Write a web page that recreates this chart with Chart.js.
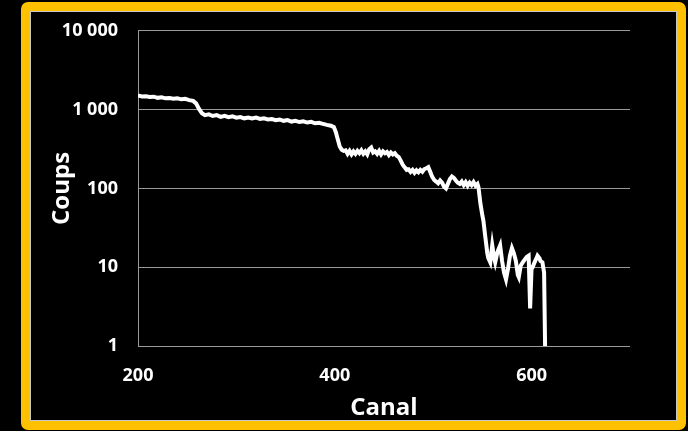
<!DOCTYPE html>
<html>
<head>
<meta charset="utf-8">
<script src="https://cdn.jsdelivr.net/npm/chart.js@4/dist/chart.umd.min.js"></script>
<style>
  html, body { margin: 0; padding: 0; background: #000; }
  body { width: 688px; height: 431px; position: relative; overflow: hidden; }
  #frame {
    position: absolute; left: 21px; top: 2px; width: 665px; height: 428px;
    box-sizing: border-box; border: 9px solid #FFC000; border-radius: 7px;
    background: #000; box-shadow: inset 0 0 0 1px #c8c8c8;
  }
  #wrap { position: absolute; left: 0; top: 0; width: 688px; height: 431px; }
</style>
</head>
<body>
<div id="frame"></div>
<div id="wrap"><canvas id="chart"></canvas></div>
<script>
/* ── data ────────────────────────────────────────────────── */

const canal = [
  200, 204, 208, 212, 216, 220, 224, 228, 232, 236, 240, 244, 248, 252, 256,
  259, 262, 265, 268,
  272, 276, 280, 284, 288, 292, 296, 300, 304, 308, 312, 316, 320, 324, 328,
  332, 336, 340, 344, 348, 352, 356, 360, 364, 368, 372, 376, 380, 384, 388,
  392, 396, 399,
  401, 403, 405, 407, 409,
  411, 413, 415, 417, 419, 421, 423, 425, 427, 429, 431, 433, 435, 437, 439,
  441, 443, 445, 447, 449, 451, 453, 455, 457, 459, 461, 463,
  465, 467, 469, 471, 473,
  475, 477, 479, 481, 483, 485, 487, 489, 491, 493, 495, 497,
  499, 501, 503, 505, 507, 509, 511, 513, 515, 517, 519, 521, 523, 525, 527,
  529, 531, 533, 535, 537, 539, 541, 543, 545, 546,
  548, 550, 551, 553, 555,
  556, 558, 560, 562, 563, 565, 566, 568, 570, 572, 574, 576, 578, 580, 582,
  584, 586, 587, 589, 591, 593, 595, 597, 598.5, 600, 601, 603, 605, 606, 608,
  609, 611, 612.7, 613.7
];

const coups = [
  1510, 1470, 1480, 1450, 1460, 1410, 1430, 1390, 1400, 1370, 1390, 1350, 1370, 1320, 1290,
  1200, 1020, 900, 850,
  870, 830, 850, 810, 835, 800, 820, 790, 805, 775, 795, 770, 790, 760, 775,
  750, 760, 735, 750, 720, 735, 705, 720, 695, 710, 685, 700, 670, 680, 660,
  640, 625, 600,
  520, 420, 340, 310, 300,
  305, 275, 300, 270, 295, 275, 300, 280, 305, 275, 295, 270, 315, 330, 285,
  295, 275, 300, 270, 295, 280, 290, 265, 285, 270, 280, 260,
  250, 225, 200, 185, 172,
  175, 162, 172, 158, 170, 160, 172, 163, 176, 180, 186, 162,
  140, 128, 122, 116, 126, 118, 105, 100, 115, 132, 142, 136, 126, 118, 114,
  122, 110, 120, 108, 118, 110, 120, 108, 114, 104,
  64, 45, 39, 24, 15,
  13, 11.5, 19, 13, 11.5, 15, 16.5, 19, 12, 8.5, 7, 9.5, 14, 17.5, 15,
  12, 8, 7.5, 10.5, 11.5, 12.5, 13.5, 14, 3, 10, 10, 11.5, 13, 14, 13,
  12, 11.5, 8.5, 1
];

const xTicks      = [200, 400, 600];
const yTicks      = [1, 10, 100, 1000, 10000];
const yTickLabels = ["1", "10", "100", "1 000", "10 000"];

/* ── chart ───────────────────────────────────────────────── */

const FONT  = "'Open Sans', 'DejaVu Sans', sans-serif";
const GRID  = "#9a9a9a";

const points = canal.map((c, i) => ({ x: c, y: coups[i] }));

new Chart(document.getElementById("chart"), {
  type: "line",
  data: {
    datasets: [{
      data: points,
      borderColor: "#ffffff",
      borderWidth: 4,
      pointRadius: 0,
      tension: 0,
      fill: false,
    }],
  },
  options: {
    responsive: true,
    maintainAspectRatio: false,
    animation: false,
    events: [],
    layout: { padding: { left: 40, right: 58, top: 30, bottom: 0 } },
    plugins: { legend: { display: false }, tooltip: { enabled: false } },
    scales: {
      x: {
        type: "linear",
        min: 200,
        max: 700,
        grid: { display: false },
        border: { display: false },
        afterBuildTicks: s => { s.ticks = xTicks.map(v => ({ value: v })); },
        afterFit: s => { s.height = 431 - 346; },
        ticks: {
          color: "#fff",
          padding: 11,
          maxRotation: 0,
          font: { family: FONT, size: 18, weight: "bold" },
        },
        title: {
          display: true,
          text: "Canal",
          color: "#fff",
          padding: { top: 0, bottom: 8 },
          font: { family: FONT, size: 24, weight: "bold" },
        },
      },
      y: {
        type: "logarithmic",
        min: 1,
        max: 10000,
        grid: { color: GRID, lineWidth: 1, drawTicks: false },
        border: { display: true, color: GRID, width: 1 },
        afterBuildTicks: s => { s.ticks = yTicks.map(v => ({ value: v })); },
        afterFit: s => { s.width = 138 - 40; },
        ticks: {
          color: "#fff",
          padding: 20,
          font: { family: FONT, size: 18, weight: "bold" },
          callback: v => yTickLabels[yTicks.indexOf(v)] ?? "",
        },
        title: {
          display: true,
          text: "Coups",
          color: "#fff",
          padding: { top: 8, bottom: 0 },
          font: { family: FONT, size: 24, weight: "bold" },
        },
      },
    },
  },
});
</script>
</body>
</html>
